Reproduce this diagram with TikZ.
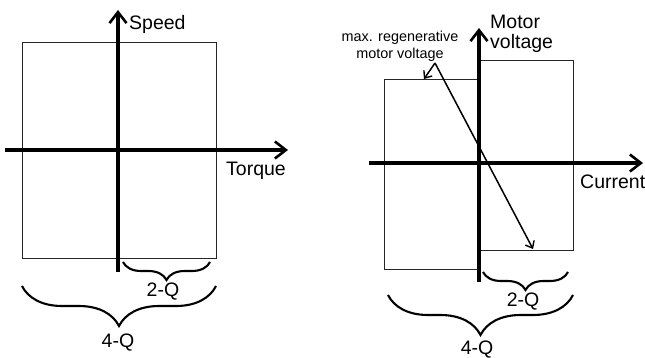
\documentclass[tikz,border=0pt]{standalone}
\usepackage{fontspec}
\setmainfont{Liberation Sans}
\usetikzlibrary{arrows.meta,positioning,calc,decorations.pathreplacing}
\tikzset{
    % Axis style
    axisline/.style={
        -{Straight Barb[length=11pt,width=17pt,line width=2.6pt]},
        line width=3.4pt,
        draw=black
    },
    % Operating region box
    regionbox/.style={
        draw=black!85,
        line width=1pt
    },
    % Thin pointer arrow
    pointer/.style={
        -{Straight Barb[length=6pt,width=10pt,line width=1.4pt]},
        line width=1.5pt,
        draw=black
    },
    % Quadrant brace
    quadbrace/.style={
        decorate,
        decoration={brace, mirror, amplitude=#1},
        line width=2.1pt
    },
    % Axis label
    axislabel/.style={
        inner sep=0pt,
        align=left,
        font=\fontsize{19.5}{20}\selectfont
    },
    % Small note
    notelabel/.style={
        inner sep=0pt,
        align=center,
        font=\fontsize{14.4}{17}\selectfont
    }
}
\begin{document}
\begin{tikzpicture}[x=1pt, y=-1pt]
        \useasboundingbox (0,0) rectangle (645,357);

        % Left diagram: speed over torque
        \draw[regionbox] (22,42) rectangle (216,258);
        \coordinate (sbot) at (118,272);
        \coordinate (stop) at (118,10);
        \coordinate (tleft) at (5,150);
        \coordinate (tright) at (288,150);
        \draw[axisline] (sbot) -- (stop);
        \draw[axisline] (tleft) -- (tright);
        \node[axislabel, anchor=base west] (speed) at (129,29) {Speed};
        \node[axislabel, anchor=base west] (torque) at (226,175) {Torque};

        % Left braces
        \coordinate (ltwoa) at (123,262);
        \coordinate (ltwob) at (210,262);
        \coordinate (lfoura) at (22,286);
        \coordinate (lfourb) at (216,286);
        \draw[quadbrace=18pt] (ltwoa) -- (ltwob);
        \draw[quadbrace=40pt] (lfoura) -- (lfourb);
        \node[axislabel] (ltwo) at (163,292) {2-Q};
        \node[axislabel] (lfour) at (118,343) {4-Q};

        % Right diagram: motor voltage over current
        \draw[regionbox] (384,79) rectangle (479,269);
        \draw[regionbox] (479,60) rectangle (573,250);
        \coordinate (vbot) at (479,282);
        \coordinate (vtop) at (479,28);
        \coordinate (cleft) at (369,163);
        \coordinate (cright) at (643,163);
        \draw[axisline] (vbot) -- (vtop);
        \draw[axisline] (cleft) -- (cright);
        \node[axislabel, anchor=base west] (voltage) at (490,48) {Motor\\voltage};
        \node[axislabel, anchor=base west] (current) at (580,188) {Current};

        % Regenerative voltage note
        \node[notelabel, anchor=base] (regen) at (400,58) {max. regenerative\\motor voltage};
        \coordinate (regstart) at (435,63);
        \coordinate (regedge) at (424,79);
        \coordinate (regend) at (533,249);
        \draw[pointer] (regstart) -- (regedge);
        \draw[pointer] (regstart) -- (regend);

        % Right braces
        \coordinate (rtwoa) at (483,272);
        \coordinate (rtwob) at (568,272);
        \coordinate (rfoura) at (388,295);
        \coordinate (rfourb) at (573,295);
        \draw[quadbrace=18pt] (rtwoa) -- (rtwob);
        \draw[quadbrace=40pt] (rfoura) -- (rfourb);
        \node[axislabel] (rtwo) at (523,302) {2-Q};
        \node[axislabel] (rfour) at (477,350) {4-Q};
    \end{tikzpicture}
\end{document}
